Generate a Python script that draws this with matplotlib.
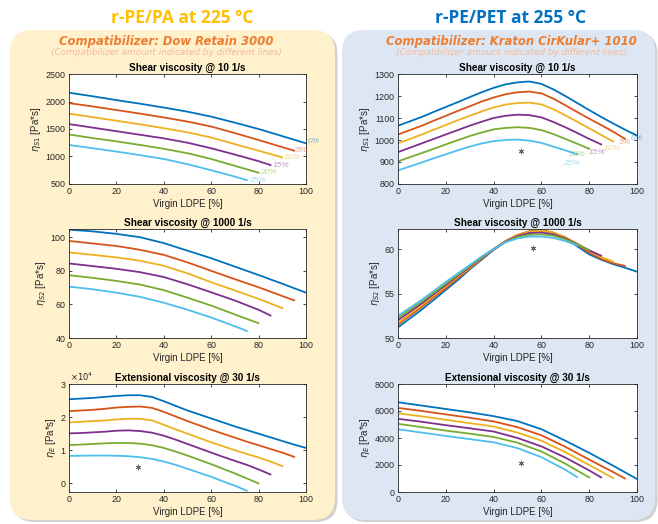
import matplotlib
matplotlib.use("Agg")
import matplotlib.pyplot as plt
from matplotlib.patches import FancyBboxPatch

# ---------------- data ----------------
compat = ['0%', '5%', '10%', '15%', '20%', '25%']
xmax = [100, 95, 90, 85, 80, 75]
colors = ['#0072BD', '#D95319', '#EDB120', '#7E2F8E', '#77AC30', '#4DBEEE']

# r-PE/PA, shear viscosity @ 10 1/s (x step 10 + end point)
pa_s1 = [
    [2160, 2095, 2025, 1960, 1890, 1815, 1725, 1615, 1500, 1370, 1240],
    [1970, 1910, 1845, 1780, 1710, 1635, 1545, 1425, 1300, 1170, 1105],
    [1780, 1715, 1650, 1585, 1515, 1440, 1345, 1225, 1105, 985],
    [1590, 1525, 1460, 1395, 1330, 1250, 1150, 1035, 915, 845],
    [1400, 1335, 1275, 1210, 1140, 1060, 955, 830, 705],
    [1210, 1150, 1090, 1025, 955, 860, 750, 635, 570],
]
# r-PE/PA, shear viscosity @ 1000 1/s (x step 10 + end point)
pa_s2 = [
    [104.5, 103.5, 102, 100, 96.5, 92, 87.5, 82.5, 77.5, 72.3, 67],
    [97.8, 96.3, 94.8, 92.5, 89.5, 85, 80, 75, 70.2, 65, 62.4],
    [91, 89.5, 88, 86, 83, 78.5, 73.2, 68.3, 63.3, 57.8],
    [84.4, 82.8, 81.2, 79.2, 76.3, 72, 67.2, 62.3, 56.8, 53.4],
    [77.4, 75.8, 74, 71.8, 68.5, 64, 59.3, 54, 48.8],
    [70.6, 69, 67, 64.5, 61, 56.8, 52.2, 47, 44.2],
]
# r-PE/PA, extensional viscosity @ 30 1/s, in units of 1e4 Pa*s (x step 5)
pa_e = [
    [2.54, 2.56, 2.58, 2.61, 2.64, 2.66, 2.66, 2.61, 2.48, 2.34, 2.2, 2.08, 1.96, 1.84, 1.72, 1.61, 1.5, 1.39, 1.28, 1.17, 1.07],
    [2.18, 2.2, 2.22, 2.25, 2.29, 2.31, 2.32, 2.28, 2.16, 2.02, 1.88, 1.75, 1.62, 1.5, 1.38, 1.26, 1.15, 1.04, 0.93, 0.8],
    [1.84, 1.86, 1.88, 1.9, 1.93, 1.95, 1.95, 1.9, 1.77, 1.63, 1.5, 1.37, 1.24, 1.12, 1.0, 0.89, 0.78, 0.66, 0.52],
    [1.51, 1.52, 1.54, 1.56, 1.59, 1.6, 1.58, 1.53, 1.44, 1.32, 1.19, 1.06, 0.93, 0.8, 0.68, 0.56, 0.42, 0.27],
    [1.16, 1.17, 1.19, 1.21, 1.22, 1.22, 1.2, 1.15, 1.07, 0.96, 0.84, 0.71, 0.58, 0.44, 0.3, 0.15, 0.0],
    [0.83, 0.835, 0.84, 0.84, 0.835, 0.82, 0.79, 0.74, 0.66, 0.56, 0.44, 0.32, 0.2, 0.06, -0.07, -0.22],
]
# r-PE/PET, shear viscosity @ 10 1/s (x step 5)
pet_s1 = [
    [1065, 1085, 1105, 1128, 1150, 1172, 1195, 1217, 1237, 1253, 1262, 1266, 1255, 1230, 1200, 1168, 1136, 1105, 1075, 1047, 1020],
    [1025, 1045, 1065, 1088, 1110, 1132, 1153, 1175, 1193, 1208, 1217, 1220, 1212, 1188, 1158, 1127, 1097, 1068, 1038, 1005],
    [985, 1005, 1025, 1047, 1068, 1090, 1110, 1130, 1148, 1161, 1168, 1170, 1162, 1140, 1112, 1083, 1053, 1023, 993],
    [945, 965, 985, 1005, 1025, 1045, 1065, 1083, 1100, 1110, 1115, 1113, 1103, 1082, 1058, 1032, 1005, 980],
    [903, 922, 941, 960, 980, 999, 1018, 1034, 1048, 1055, 1058, 1055, 1045, 1027, 1005, 983, 960],
    [862, 880, 898, 917, 935, 953, 970, 984, 995, 1000, 1002, 997, 987, 970, 953, 935],
]
# r-PE/PET, shear viscosity @ 1000 1/s (x step 5)
pet_s2 = [
    [51.2, 52.2, 53.2, 54.3, 55.4, 56.5, 57.7, 58.8, 59.9, 60.8, 61.5, 61.95, 62.1, 61.8, 61.2, 60.3, 59.4, 58.8, 58.3, 57.9, 57.45],
    [51.5, 52.5, 53.5, 54.6, 55.6, 56.7, 57.8, 58.9, 59.95, 60.9, 61.6, 62.0, 62.1, 61.85, 61.3, 60.5, 59.6, 58.9, 58.4, 58.1],
    [51.7, 52.7, 53.7, 54.8, 55.8, 56.9, 57.9, 59.0, 60.0, 60.9, 61.55, 61.95, 62.05, 61.85, 61.35, 60.6, 59.8, 59.1, 58.6],
    [52.0, 52.95, 53.9, 54.95, 55.95, 57.0, 58.0, 59.05, 60.0, 60.85, 61.45, 61.8, 61.85, 61.65, 61.2, 60.55, 59.85, 59.25],
    [52.25, 53.2, 54.1, 55.1, 56.1, 57.1, 58.1, 59.1, 60.0, 60.8, 61.35, 61.6, 61.65, 61.5, 61.1, 60.5, 59.9],
    [52.5, 53.4, 54.3, 55.3, 56.3, 57.25, 58.2, 59.15, 60.0, 60.75, 61.2, 61.4, 61.4, 61.25, 60.9, 60.4],
]
# r-PE/PET, extensional viscosity @ 30 1/s (x step 10 + end point)
pet_e = [
    [6650, 6400, 6150, 5900, 5620, 5250, 4650, 3800, 2900, 1950, 960],
    [6230, 6000, 5750, 5500, 5230, 4800, 4200, 3350, 2400, 1480, 1000],
    [5830, 5600, 5350, 5100, 4850, 4400, 3800, 2950, 2000, 1030],
    [5420, 5200, 4950, 4720, 4480, 4000, 3380, 2550, 1600, 1080],
    [5050, 4800, 4550, 4320, 4080, 3650, 3000, 2100, 1080],
    [4650, 4400, 4150, 3920, 3680, 3250, 2580, 1650, 1100],
]
# asterisk markers (x, y)
star_pa_e = (29, 0.5)
star_pet_s1 = (51.5, 948)
star_pet_s2 = (56.5, 60.07)
star_pet_e = (51.5, 2160)


def xs(step, m):
    x = list(range(0, m + 1, step))
    if x[-1] != m:
        x.append(m)
    return x


# ---------------- figure ----------------
W, H = 658, 524
fig = plt.figure(figsize=(W / 100, H / 100), dpi=100)
fig.patch.set_facecolor('white')

bg = fig.add_axes([0, 0, 1, 1], zorder=-5)
bg.set_xlim(0, W)
bg.set_ylim(H, 0)
bg.axis('off')

# panels with shadow
for (x0, w, fc) in [(10, 325, '#FFF1CC'), (342, 313, '#DDE7F3')]:
    bg.add_patch(FancyBboxPatch((x0 + 2.5, 32), w, 490,
                                boxstyle="round,pad=0,rounding_size=22",
                                fc='#9a9a9a', ec='none', alpha=0.45))
    bg.add_patch(FancyBboxPatch((x0, 30), w, 490,
                                boxstyle="round,pad=0,rounding_size=22",
                                fc=fc, ec='none'))

hfont = 'Open Sans'
sfont = 'DejaVu Sans'
bg.text(182, 18, 'r-PE/PA at 225 °C', color='#FFC000', fontsize=12.5,
        fontweight='bold', family=hfont, ha='center', va='center')
bg.text(511, 18, 'r-PE/PET at 255 °C', color='#0070C0', fontsize=12.5,
        fontweight='bold', family=hfont, ha='center', va='center')
bg.text(166, 41, 'Compatibilizer: Dow Retain 3000', color='#ED7D31', fontsize=8.4,
        fontweight='bold', style='italic', family=sfont, ha='center', va='center')
bg.text(511, 41, 'Compatibilizer: Kraton CirKular+ 1010', color='#ED7D31', fontsize=8.4,
        fontweight='bold', style='italic', family=sfont, ha='center', va='center')
for cx in (166, 511):
    bg.text(cx, 52.5, '(Compatibilizer amount indicated by different lines)',
            color='#F4B99A', fontsize=6.4, style='italic', family=sfont,
            ha='center', va='center')

afont = 'Liberation Sans'
tick_c = '#262626'
star_kw = dict(marker=(6, 2, 0), color='#666666', ms=4, mew=0.6, ls='none')


def make_ax(l, t, r, b):
    ax = fig.add_axes([l / W, 1 - b / H, (r - l) / W, (b - t) / H])
    ax.set_facecolor('white')
    for s in ax.spines.values():
        s.set_color(tick_c)
        s.set_linewidth(0.6)
    ax.tick_params(direction='in', length=2.5, width=0.6, top=True, right=True,
                   labelsize=6.4, colors=tick_c, pad=2.5)
    ax.set_xlim(0, 100)
    ax.set_xticks([0, 20, 40, 60, 80, 100])
    ax.set_xlabel('Virgin LDPE [%]', fontsize=7, family=afont, color=tick_c, labelpad=1.5)
    return ax


def finish(ax, title, ylab):
    ax.set_title(title, fontsize=7.2, fontweight='bold', family=afont, pad=2.5, color='black')
    ax.set_ylabel(ylab, fontsize=7, family=afont, color=tick_c, labelpad=2)
    for lab in ax.get_xticklabels() + ax.get_yticklabels():
        lab.set_family(afont)


L = (69, 306)
R = (398, 637)
rows = [(74, 184), (229, 338), (384, 492)]

# ---- left top ----
ax = make_ax(L[0], rows[0][0], L[1], rows[0][1])
lab_dy_l = [25, -5, 0, 0, 0, 0]
for i, ys in enumerate(pa_s1):
    x = xs(10, xmax[i])
    ax.plot(x, ys, color=colors[i], lw=1.3)
    ax.text(x[-1] + 0.8, ys[-1] + lab_dy_l[i], compat[i], color=colors[i], alpha=0.5,
            fontsize=6, style='italic', family=afont, ha='left', va='center', clip_on=False)
ax.set_ylim(500, 2500)
ax.set_yticks([500, 1000, 1500, 2000, 2500])
finish(ax, 'Shear viscosity @ 10 1/s', r'$\eta_{S1}$ [Pa*s]')

# ---- left middle ----
ax = make_ax(L[0], rows[1][0], L[1], rows[1][1])
for i, ys in enumerate(pa_s2):
    ax.plot(xs(10, xmax[i]), ys, color=colors[i], lw=1.3)
ax.set_ylim(40, 104.9)
ax.set_yticks([40, 60, 80, 100])
finish(ax, 'Shear viscosity @ 1000 1/s', r'$\eta_{S2}$ [Pa*s]')

# ---- left bottom ----
ax = make_ax(L[0], rows[2][0], L[1], rows[2][1])
for i, ys in enumerate(pa_e):
    ax.plot(xs(5, xmax[i]), ys, color=colors[i], lw=1.3)
ax.plot(*star_pa_e, **star_kw)
ax.set_ylim(-0.26, 3)
ax.set_yticks([0, 1, 2, 3])
ax.text(0.005, 1.005, r'$\times10^4$', transform=ax.transAxes, fontsize=6,
        color=tick_c, ha='left', va='bottom')
finish(ax, 'Extensional viscosity @ 30 1/s', r'$\eta_{E}$ [Pa*s]')

# ---- right top ----
ax = make_ax(R[0], rows[0][0], R[1], rows[0][1])
lab_dx = [-2.5, -2.5, -4.0, -5.3, -9.0, -6]
lab_dy = [-11, -18, -30, -35, -27, -42]
for i, ys in enumerate(pet_s1):
    x = xs(5, xmax[i])
    ax.plot(x, ys, color=colors[i], lw=1.3)
    ax.text(x[-1] + lab_dx[i], ys[-1] + lab_dy[i], compat[i], color=colors[i], alpha=0.5,
            fontsize=6, style='italic', family=afont, ha='left', va='center', clip_on=False)
ax.plot(*star_pet_s1, **star_kw)
ax.set_ylim(800, 1300)
ax.set_yticks([800, 900, 1000, 1100, 1200, 1300])
finish(ax, 'Shear viscosity @ 10 1/s', r'$\eta_{S1}$ [Pa*s]')

# ---- right middle ----
ax = make_ax(R[0], rows[1][0], R[1], rows[1][1])
for i, ys in enumerate(pet_s2):
    ax.plot(xs(5, xmax[i]), ys, color=colors[i], lw=1.3)
ax.plot(*star_pet_s2, **star_kw)
ax.set_ylim(50, 62.25)
ax.set_yticks([50, 55, 60])
finish(ax, 'Shear viscosity @ 1000 1/s', r'$\eta_{S2}$ [Pa*s]')

# ---- right bottom ----
ax = make_ax(R[0], rows[2][0], R[1], rows[2][1])
for i, ys in enumerate(pet_e):
    ax.plot(xs(10, xmax[i]), ys, color=colors[i], lw=1.3)
ax.plot(*star_pet_e, **star_kw)
ax.set_ylim(0, 8000)
ax.set_yticks([0, 2000, 4000, 6000, 8000])
finish(ax, 'Extensional viscosity @ 30 1/s', r'$\eta_{E}$ [Pa*s]')

fig.savefig('out.png', dpi=100, facecolor=fig.get_facecolor())
